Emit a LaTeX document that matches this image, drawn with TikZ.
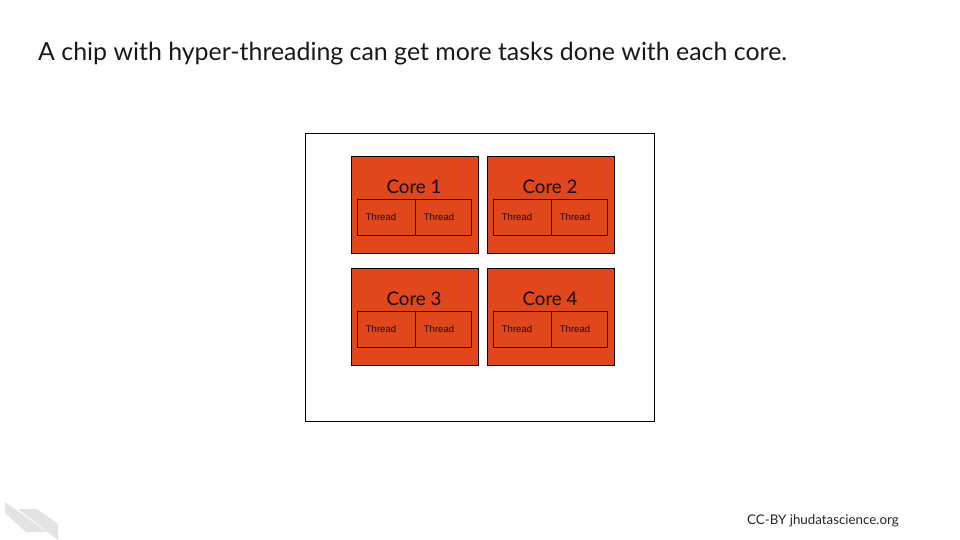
\documentclass[tikz,border=0pt]{standalone}
\usepackage{fontspec}
\setmainfont{Lato}
\newfontfamily\threadfont{Liberation Sans}
\definecolor{coreorange}{HTML}{E0471C}
\definecolor{logogray}{HTML}{E3E3E3}
\tikzset{
  x=1pt,y=-1pt,
  corebox/.style={draw=black,fill=coreorange,line width=0.75pt,minimum width=127pt,minimum height=97pt,inner sep=0pt},
  threadbox/.style={draw=black,line width=0.75pt,minimum height=36pt,inner sep=0pt},
  threadtext/.style={inner sep=0pt,font=\threadfont\fontsize{9.6}{11}\selectfont,text=black!85!coreorange},
  corelabel/.style={inner sep=0pt,font=\fontsize{18.7}{22}\selectfont,text=black!90!coreorange},
  chipbox/.style={draw=black,line width=0.75pt,fill=white,minimum width=349pt,minimum height=288pt,inner sep=0pt},
}
\begin{document}
\begin{tikzpicture}
\useasboundingbox (0,0) rectangle (960,540);
\fill[white] (0,0) rectangle (960,540);
\node[anchor=west,inner sep=0pt,font=\fontsize{24.9}{29}\selectfont,text=black!90] (title) at (38,54) {A chip with hyper-threading can get more tasks done with each core.};
\node[chipbox] (chip) at (480,277.5) {};
\foreach \n/\cx/\cy in {1/415/205,2/551/205,3/415/317,4/551/317}{
  \node[corebox] (core\n) at (\cx,\cy) {};
  \node[corelabel] (label\n) at (\cx-1,\cy-18.5) {Core \n};
  \node[threadbox,minimum width=58pt] (ta\n) at (\cx-28.5,\cy+12.5) {};
  \node[threadbox,minimum width=56pt] (tb\n) at (\cx+28.5,\cy+12.5) {};
  \node[threadtext] (tta\n) at (\cx-34,\cy+12.5) {Thread};
  \node[threadtext] (ttb\n) at (\cx+24,\cy+12.5) {Thread};
}
\fill[logogray] (5,502) -- (47,532) -- (26,532) -- (5,513) -- cycle;
\fill[logogray] (18,509) -- (37,509) -- (58,524) -- (58,540) -- cycle;
\node[anchor=west,inner sep=0pt,font=\fontsize{13.33}{15}\selectfont,text=black!85] (credit) at (747,520.5) {CC-BY jhudatascience.org};
\end{tikzpicture}
\end{document}
